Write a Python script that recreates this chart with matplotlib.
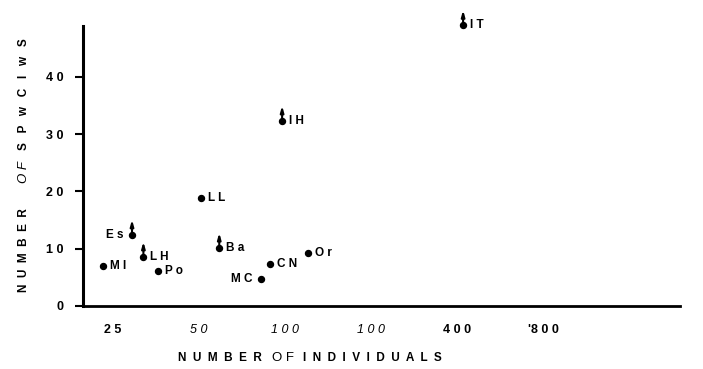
"""Species count against number of individuals, log2 x axis, scanned-figure look."""

import matplotlib

matplotlib.use("Agg")
import matplotlib.pyplot as plt
import matplotlib.transforms as mtransforms

# values
sites = ["MI", "Es", "LH", "Po", "LL", "Ba", "MC", "CN", "Or", "IH", "IT"]
individuals = [23.1, 29.1, 31.9, 35.9, 50.8, 58.8, 82.4, 88.6, 120, 97.6, 420]
species = [7.0, 12.4, 8.55, 6.1, 18.85, 10.1, 4.7, 7.3, 9.25, 32.3, 49.0]
lower_bound = [False, True, True, False, False, True, False, False, False, True, True]
label_side = ["right", "left", "right", "right", "right", "right", "left",
              "right", "right", "right", "right"]

x_ticks = [25, 50, 100, 200, 400, 800]
x_tick_labels = ["2 5", "5 0", "1 0 0", "1 0 0", "4 0 0", "'8 0 0"]
x_tick_styles = ["bold", "italic", "italic", "italic", "bold", "bold"]
y_ticks = [0, 10, 20, 30, 40]
y_tick_labels = ["0", "1 0", "2 0", "3 0", "4 0"]


def spaced(word, gap="  "):
    return gap.join(word)


plt.rcParams["font.family"] = ["Liberation Sans", "DejaVu Sans"]

fig = plt.figure(figsize=(7.03, 3.69), dpi=100)
ax = fig.add_axes([83 / 703, 1 - 306 / 369, (680 - 83) / 703, (306 - 26) / 369])

ax.set_xscale("log", base=2)
ax.set_xlim(19.6, 2414)
ax.set_ylim(0, 48.9)

ax.plot(individuals, species, "o", color="black", ms=4.3, clip_on=False, zorder=3)

for name, x, y, up, side in zip(sites, individuals, species, lower_bound, label_side):
    text = " ".join(name)
    if side == "right":
        ax.annotate(text, (x, y), xytext=(5, 0), textcoords="offset points",
                    ha="left", va="center", fontsize=8.5, fontweight="bold",
                    annotation_clip=False)
    else:
        ax.annotate(text, (x, y), xytext=(-6, 0), textcoords="offset points",
                    ha="right", va="center", fontsize=8.5, fontweight="bold",
                    annotation_clip=False)
    if up:
        tip = mtransforms.offset_copy(ax.transData, fig=fig, x=0, y=11, units="points")
        ax.annotate("", xy=(x, y), xycoords=tip, xytext=(x, y), textcoords="data",
                    arrowprops=dict(arrowstyle="-|>,head_length=0.35,head_width=0.1",
                                    color="black", lw=1.5, shrinkA=0, shrinkB=0),
                    annotation_clip=False)

for side in ["top", "right"]:
    ax.spines[side].set_visible(False)
ax.spines["left"].set_linewidth(2.2)
ax.spines["bottom"].set_linewidth(2.0)

ax.set_yticks(y_ticks)
ax.set_yticklabels(y_tick_labels, fontsize=9, fontweight="bold")
ax.tick_params(axis="y", length=6, width=1.5, pad=8)

ax.set_xticks(x_ticks)
ax.set_xticklabels(x_tick_labels, fontsize=9)
ax.xaxis.set_minor_locator(matplotlib.ticker.FixedLocator([25, 50]))
ax.xaxis.set_minor_formatter(matplotlib.ticker.NullFormatter())
ax.tick_params(axis="x", which="major", length=0, pad=13)
ax.tick_params(axis="x", which="minor", length=4, width=1.0, direction="in")
for lab, style in zip(ax.get_xticklabels(), x_tick_styles):
    if style == "bold":
        lab.set_fontweight("bold")
    else:
        lab.set_fontstyle("italic")

# axis titles, with the lighter "OF" as in the original print
fig.text(262 / 703, 1 - 358 / 369, spaced("NUMBER"), ha="right", va="center",
         fontsize=8.5, fontweight="bold")
fig.text(283 / 703, 1 - 358 / 369, "O F", ha="center", va="center", fontsize=9.5)
fig.text(303 / 703, 1 - 358 / 369, spaced("INDIVIDUALS"), ha="left", va="center",
         fontsize=8.5, fontweight="bold")

fig.text(24 / 703, 1 - 292 / 369, spaced("NUMBER"), rotation=90, ha="center",
         va="bottom", fontsize=8.5, fontweight="bold")
fig.text(24 / 703, 1 - 172 / 369, "O F", rotation=90, ha="center", va="center",
         fontsize=9.5, fontstyle="italic")
fig.text(24 / 703, 1 - 150 / 369, spaced("SPwCIwS", "   "), rotation=90, ha="center",
         va="bottom", fontsize=8.5, fontweight="bold")

fig.savefig("out.png", dpi=100)
